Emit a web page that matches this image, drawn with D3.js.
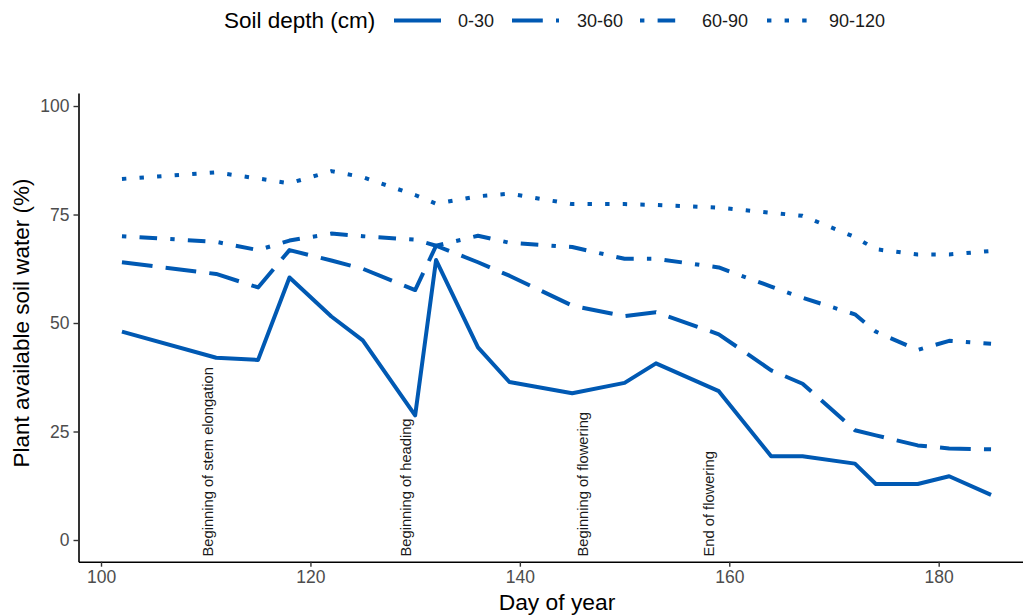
<!DOCTYPE html>
<html>
<head>
<meta charset="utf-8">
<script src="https://cdn.jsdelivr.net/npm/d3@7"></script>
<style>
  html, body { margin: 0; padding: 0; background: #ffffff; }
  svg { display: block; font-family: "Liberation Sans", Arial, sans-serif; }
</style>
</head>
<body>
<svg id="chart" width="1023" height="615"></svg>
<script>
// ---------------- DATA ----------------
const days = [102,111,115,118,122,125,130,132,136,139,145,150,153,159,164,167,172,174,178,181,185];
const depth0_30   = [48,42,41.5,60.5,51.5,46,28.7,64.5,44.4,36.4,33.8,36.2,40.7,34.3,19.3,19.3,17.6,12.9,12.9,14.7,10.4];
const depth30_60  = [64,61.3,58.2,66.8,64.4,62.5,57.6,67.8,64,60.9,54,51.6,52.5,47.4,39.1,36,25.3,24.1,21.8,21.1,20.9];
const depth60_90  = [70,68.7,66.8,69,70.6,70,69.2,67.8,70.1,68.5,67.5,64.8,64.8,62.8,58.4,55.8,52,48,43.8,45.9,45.2];
const depth90_120 = [83.2,84.7,83.3,82.2,85,83.6,79.5,77.5,79.2,79.8,77.4,77.4,77.2,76.6,75.4,74.7,69.8,67,65.8,65.8,66.6];
const seriesNames = ["0-30","30-60","60-90","90-120"];
const stageDays = [110.2,129.1,146,158.1];
const stageLabels = ["Beginning of stem elongation","Beginning of heading","Beginning of flowering","End of flowering"];
const xTicks = [100,120,140,160,180];
const yTicks = [0,25,50,75,100];

// ---------------- STYLE ----------------
const color = "#0059B3";
const lw = 4;
const u = 4.4; // dash unit (R lwd scaling)
const dashes = {
  "0-30": null,
  "30-60": [7*u, 3*u].join(","),           // longdash
  "60-90": [1*u, 3*u, 4*u, 3*u].join(","), // dotdash
  "90-120": [1*u, 3*u].join(",")           // dotted
};

const series = [
  {name: "0-30", values: depth0_30},
  {name: "30-60", values: depth30_60},
  {name: "60-90", values: depth60_90},
  {name: "90-120", values: depth90_120}
];

const svg = d3.select("#chart");

const xDom = [97.85, 189.15];
const yDom = [-5, 103];
const x = d3.scaleLinear().domain(xDom).range([78.5, 1034.5]);
const y = d3.scaleLinear().domain(yDom).range([561.7, 93]);

// Axes
const xAxis = d3.axisBottom(x).tickValues(xTicks).tickSize(5).tickSizeOuter(0).tickPadding(4).tickFormat(d3.format("d"));
const yAxis = d3.axisLeft(y).tickValues(yTicks).tickSize(5).tickSizeOuter(0).tickPadding(4).tickFormat(d3.format("d"));

const gx = svg.append("g").attr("transform", `translate(0,${y(yDom[0])})`).call(xAxis);
const gy = svg.append("g").attr("transform", `translate(${x(xDom[0])},0)`).call(yAxis);

[gx, gy].forEach(g => {
  g.select(".domain").attr("stroke", "#000").attr("stroke-width", 1.6);
  g.selectAll(".tick line").attr("stroke", "#333").attr("stroke-width", 1.4);
  g.selectAll(".tick text").attr("fill", "#4D4D4D").style("font-size", "17.5px")
    .style("font-family", '"Liberation Sans", Arial, sans-serif');
});

// Lines
const line = d3.line().x((d, i) => x(days[i])).y(d => y(d));
svg.append("g").selectAll("path").data(series).join("path")
  .attr("d", d => line(d.values))
  .attr("fill", "none")
  .attr("stroke", color)
  .attr("stroke-width", lw)
  .attr("stroke-linecap", "butt")
  .attr("stroke-linejoin", "round")
  .attr("stroke-dasharray", d => dashes[d.name]);

// Stage annotations (vertical text)
svg.append("g").selectAll("text").data(stageLabels).join("text")
  .attr("transform", (d, i) => `translate(${x(stageDays[i])},${y(-3.8)}) rotate(-90)`)
  .attr("text-anchor", "start")
  .attr("dominant-baseline", "central")
  .attr("fill", "#1a1a1a")
  .style("font-size", "14.7px")
  .text(d => d);

// Axis titles
svg.append("text")
  .attr("x", 557)
  .attr("y", 610)
  .attr("text-anchor", "middle")
  .attr("fill", "#000")
  .style("font-size", "22.8px")
  .text("Day of year");

svg.append("text")
  .attr("transform", `translate(29,${y(50)}) rotate(-90)`)
  .attr("text-anchor", "middle")
  .attr("fill", "#000")
  .style("font-size", "22.5px")
  .text("Plant available soil water (%)");

// Legend
const legend = svg.append("g");
legend.append("text")
  .attr("x", 224).attr("y", 28)
  .attr("fill", "#000")
  .style("font-size", "22.5px")
  .text("Soil depth (cm)");

const keyX = [394, 512, 640, 767];
const labX = [458, 577, 702, 829];
const items = legend.selectAll("g.item").data(seriesNames).join("g").attr("class", "item");
items.append("line")
  .attr("x1", (d, i) => keyX[i]).attr("x2", (d, i) => keyX[i] + 47)
  .attr("y1", 20.5).attr("y2", 20.5)
  .attr("stroke", color).attr("stroke-width", lw)
  .attr("stroke-linecap", "butt")
  .attr("stroke-dasharray", d => dashes[d]);
items.append("text")
  .attr("x", (d, i) => labX[i]).attr("y", 27)
  .attr("fill", "#1a1a1a")
  .style("font-size", "18px")
  .text(d => d);
</script>
</body>
</html>
